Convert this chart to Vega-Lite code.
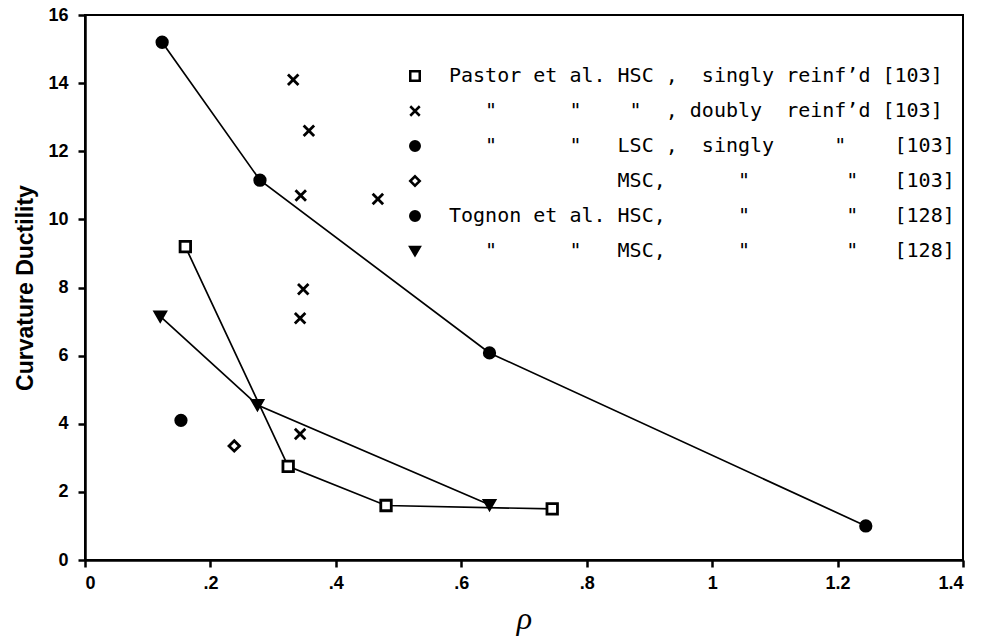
{
  "$schema": "https://vega.github.io/schema/vega-lite/v6.json",
  "width": 878,
  "height": 545,
  "autosize": {"type": "none"},
  "padding": {"left": 85, "top": 15, "right": 20, "bottom": 80},
  "background": "white",
  "config": {
    "view": {"stroke": "black", "strokeWidth": 2},
    "axis": {
      "grid": false,
      "domainColor": "black",
      "domainWidth": 2.5,
      "tickColor": "black",
      "tickWidth": 2.5,
      "tickSize": 7,
      "labelFont": "Liberation Sans",
      "labelFontWeight": "bold",
      "labelFontSize": 18,
      "labelColor": "black",
      "titleColor": "black"
    }
  },
  "data": {
    "values": [
      {"series": "Pastor HSC singly", "rho": 0.16, "ductility": 9.2},
      {"series": "Pastor HSC singly", "rho": 0.324, "ductility": 2.75},
      {"series": "Pastor HSC singly", "rho": 0.48, "ductility": 1.6},
      {"series": "Pastor HSC singly", "rho": 0.745, "ductility": 1.5},
      {"series": "Pastor HSC doubly", "rho": 0.332, "ductility": 14.1},
      {"series": "Pastor HSC doubly", "rho": 0.357, "ductility": 12.6},
      {"series": "Pastor HSC doubly", "rho": 0.344, "ductility": 10.7},
      {"series": "Pastor HSC doubly", "rho": 0.467, "ductility": 10.6},
      {"series": "Pastor HSC doubly", "rho": 0.348, "ductility": 7.95},
      {"series": "Pastor HSC doubly", "rho": 0.343, "ductility": 7.1},
      {"series": "Pastor HSC doubly", "rho": 0.343, "ductility": 3.7},
      {"series": "Pastor LSC singly", "rho": 0.153, "ductility": 4.1},
      {"series": "Pastor MSC singly", "rho": 0.238, "ductility": 3.35},
      {"series": "Tognon HSC", "rho": 0.123, "ductility": 15.2},
      {"series": "Tognon HSC", "rho": 0.279, "ductility": 11.15},
      {"series": "Tognon HSC", "rho": 0.645, "ductility": 6.08},
      {"series": "Tognon HSC", "rho": 1.245, "ductility": 1.0},
      {"series": "Tognon MSC", "rho": 0.12, "ductility": 7.15},
      {"series": "Tognon MSC", "rho": 0.275, "ductility": 4.55},
      {"series": "Tognon MSC", "rho": 0.645, "ductility": 1.62}
    ]
  },
  "encoding": {
    "x": {
      "field": "rho",
      "type": "quantitative",
      "scale": {"domain": [0, 1.4], "nice": false},
      "axis": {
        "values": [0, 0.2, 0.4, 0.6, 0.8, 1, 1.2, 1.4],
        "labelExpr": "datum.value > 0 && datum.value < 1 ? '.' + round(datum.value * 10) : format(datum.value, '.1~f')",
        "labelPadding": 7,
        "title": "ρ",
        "titleFont": "Liberation Serif",
        "titleFontStyle": "italic",
        "titleFontWeight": "normal",
        "titleFontSize": 32,
        "titlePadding": 11
      }
    },
    "y": {
      "field": "ductility",
      "type": "quantitative",
      "scale": {"domain": [0, 16], "nice": false},
      "axis": {
        "values": [0, 2, 4, 6, 8, 10, 12, 14, 16],
        "labelPadding": 10,
        "title": "Curvature Ductility",
        "titleFont": "Liberation Sans",
        "titleFontWeight": "bold",
        "titleFontSize": 23,
        "titlePadding": 10
      }
    }
  },
  "layer": [
    {
      "transform": [{"filter": {"field": "series", "oneOf": ["Pastor HSC singly", "Tognon HSC", "Tognon MSC"]}}],
      "mark": {"type": "line", "color": "black", "strokeWidth": 1.7},
      "encoding": {
        "detail": {"field": "series"},
        "order": {"field": "rho", "type": "quantitative"}
      }
    },
    {
      "mark": {"type": "point", "strokeWidth": 2.8, "size": 110, "opacity": 1, "fillOpacity": 1, "strokeOpacity": 1},
      "encoding": {
        "shape": {
          "field": "series",
          "type": "nominal",
          "scale": {
            "domain": ["Pastor HSC singly", "Pastor HSC doubly", "Pastor LSC singly", "Pastor MSC singly", "Tognon HSC", "Tognon MSC"],
            "range": ["square", "M-1,-1L1,1M-1,1L1,-1", "circle", "diamond", "circle", "triangle-down"]
          },
          "legend": {
            "orient": "none",
            "legendX": 320,
            "legendY": 51,
            "title": null,
            "padding": 0,
            "labelFont": "DejaVu Sans Mono",
            "labelFontSize": 20,
            "labelColor": "black",
            "labelLimit": 700,
            "labelOffset": 24,
            "rowPadding": 15,
            "symbolSize": 90,
            "symbolStrokeWidth": 2.5,
            "labelExpr": "datum.value == 'Pastor HSC singly' ? 'Pastor\u00a0et\u00a0al.\u00a0HSC\u00a0,\u00a0\u00a0singly\u00a0reinf’d\u00a0[103]' : datum.value == 'Pastor HSC doubly' ? '\u200b\u00a0\u00a0\u00a0\"\u00a0\u00a0\u00a0\u00a0\u00a0\u00a0\"\u00a0\u00a0\u00a0\u00a0\"\u00a0\u00a0,\u00a0doubly\u00a0\u00a0reinf’d\u00a0[103]' : datum.value == 'Pastor LSC singly' ? '\u200b\u00a0\u00a0\u00a0\"\u00a0\u00a0\u00a0\u00a0\u00a0\u00a0\"\u00a0\u00a0\u00a0LSC\u00a0,\u00a0\u00a0singly\u00a0\u00a0\u00a0\u00a0\u00a0\"\u00a0\u00a0\u00a0\u00a0[103]' : datum.value == 'Pastor MSC singly' ? '\u200b\u00a0\u00a0\u00a0\u00a0\u00a0\u00a0\u00a0\u00a0\u00a0\u00a0\u00a0\u00a0\u00a0\u00a0MSC,\u00a0\u00a0\u00a0\u00a0\u00a0\u00a0\"\u00a0\u00a0\u00a0\u00a0\u00a0\u00a0\u00a0\u00a0\"\u00a0\u00a0\u00a0[103]' : datum.value == 'Tognon HSC' ? 'Tognon\u00a0et\u00a0al.\u00a0HSC,\u00a0\u00a0\u00a0\u00a0\u00a0\u00a0\"\u00a0\u00a0\u00a0\u00a0\u00a0\u00a0\u00a0\u00a0\"\u00a0\u00a0\u00a0[128]' : '\u200b\u00a0\u00a0\u00a0\"\u00a0\u00a0\u00a0\u00a0\u00a0\u00a0\"\u00a0\u00a0\u00a0MSC,\u00a0\u00a0\u00a0\u00a0\u00a0\u00a0\"\u00a0\u00a0\u00a0\u00a0\u00a0\u00a0\u00a0\u00a0\"\u00a0\u00a0\u00a0[128]'"
          }
        },
        "fill": {
          "field": "series",
          "type": "nominal",
          "scale": {
            "domain": ["Pastor HSC singly", "Pastor HSC doubly", "Pastor LSC singly", "Pastor MSC singly", "Tognon HSC", "Tognon MSC"],
            "range": ["white", "black", "black", "white", "black", "black"]
          }
        },
        "stroke": {
          "field": "series",
          "type": "nominal",
          "scale": {
            "domain": ["Pastor HSC singly", "Pastor HSC doubly", "Pastor LSC singly", "Pastor MSC singly", "Tognon HSC", "Tognon MSC"],
            "range": ["black", "black", "black", "black", "black", "black"]
          }
        }
      }
    }
  ]
}
